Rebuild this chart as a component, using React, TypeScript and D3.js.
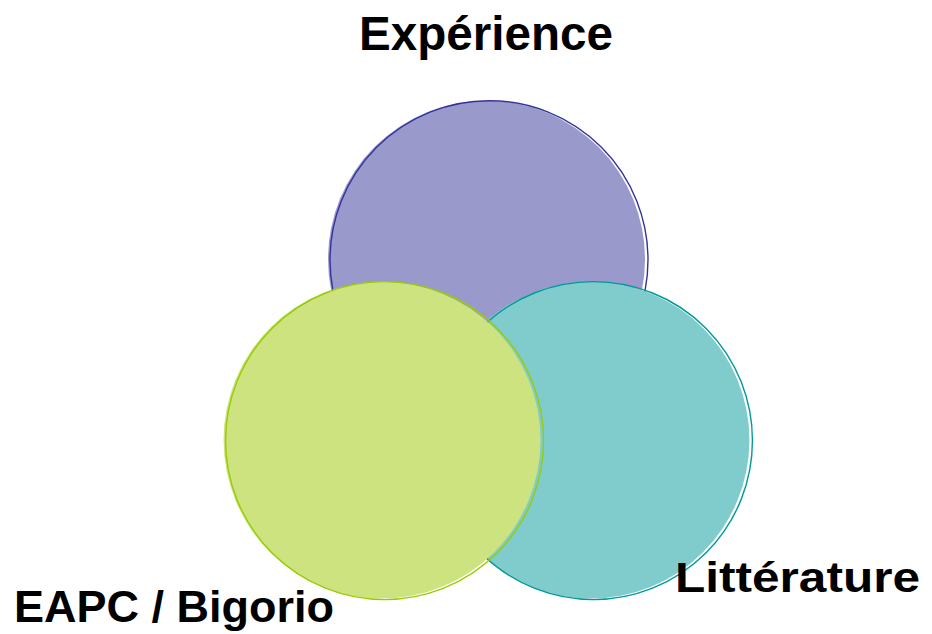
import React from "react";
import * as d3 from "d3";

const setNames = ["Expérience", "Littérature", "EAPC / Bigorio"];
const setSizes = [1, 1, 1];
const setAngles = [-90, 30, 150];
const fillColors = ["#9999cc", "#80cccc", "#cce380"];
const strokeColors = ["#333399", "#009999", "#99cc00"];

const W = 932;
const H = 634;

export default function App() {
  const rScale = d3.scaleSqrt().domain([0, 1]).range([0, 158.5]);
  const cx0 = 488;
  const cy0 = 379.8;
  const dist = 120.6;

  const circles = setNames.map((name, i) => {
    const a = (setAngles[i] * Math.PI) / 180;
    return {
      name,
      r: rScale(setSizes[i]),
      x: cx0 + dist * Math.cos(a),
      y: cy0 + dist * Math.sin(a),
      fill: fillColors[i],
      stroke: strokeColors[i],
    };
  });

  const labels = [
    { text: setNames[0], x: 359, y: 50, size: 48, len: 254 },
    { text: setNames[1], x: 675, y: 592, size: 43, len: 245 },
    { text: setNames[2], x: 14, y: 622, size: 44, len: 320 },
  ];

  return (
    <svg
      width={W}
      height={H}
      style={{ position: "absolute", left: 0, top: 0, background: "#fff" }}
    >
      {circles.map((c, i) => (
        <g key={i}>
          <circle cx={c.x - 1.5} cy={c.y} r={c.r} fill={c.fill} />
          <circle
            cx={c.x + 1}
            cy={c.y + 0.5}
            r={c.r + 0.5}
            fill="none"
            stroke={c.stroke}
            strokeWidth={1.4}
          />
        </g>
      ))}
      {labels.map((l, i) => (
        <text
          key={i}
          x={l.x}
          y={l.y}
          fontFamily="'Liberation Sans', Arial, sans-serif"
          fontWeight="bold"
          fontSize={l.size}
          textLength={l.len}
          lengthAdjust="spacingAndGlyphs"
          fill="#000"
        >
          {l.text}
        </text>
      ))}
    </svg>
  );
}
